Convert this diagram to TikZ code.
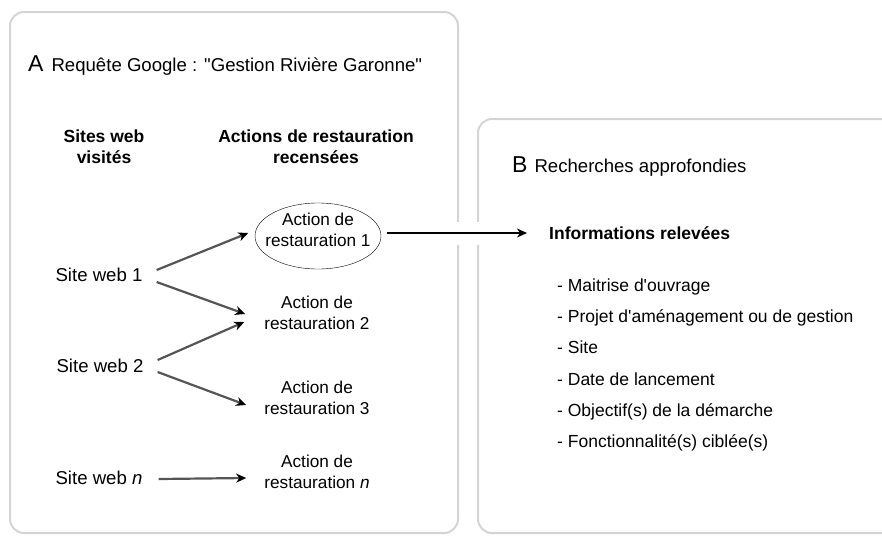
\documentclass[tikz,border=0pt]{standalone}
\usepackage{fontspec}
\setmainfont{Liberation Sans}
\usetikzlibrary{arrows.meta}
\definecolor{boxgray}{HTML}{D4D4D4}
\definecolor{arrgray}{HTML}{555555}
\tikzset{
  panel/.style={draw=boxgray, line width=2pt, rounded corners=14pt},
  txt/.style={inner sep=0pt, font=\fontsize{18.6}{22}\selectfont, align=center},
  act/.style={inner sep=0pt, font=\fontsize{17.2}{21.5}\selectfont, align=center},
  hdr/.style={inner sep=0pt, font=\bfseries\fontsize{17.5}{21}\selectfont, align=center},
  item/.style={inner sep=0pt, font=\fontsize{17.5}{21}\selectfont, anchor=base west},
  link/.style={draw=arrgray, line width=2.2pt, -{Stealth[length=10pt,width=9pt,inset=3pt,color=black]}},
  mainlink/.style={draw=black, line width=1.6pt, -{Stealth[length=10pt,width=9pt,inset=3pt]}}
}
\begin{document}
\begin{tikzpicture}[x=1pt,y=-1pt]
\useasboundingbox (0,0) rectangle (882,536);
% panels
\draw[panel] (10,12) rectangle (458,533);
\draw[panel] (478,119) rectangle (920,533);
\fill[white] (450,222) rectangle (486,245);
% headings
\node[inner sep=0pt, anchor=base west] (ttlA) at (28,71) {{\fontsize{23}{23}\selectfont A}\hspace{8pt}{\fontsize{18.6}{22}\selectfont Requête Google : \textquotedbl Gestion Rivière Garonne\textquotedbl}};
\node[inner sep=0pt, anchor=base west] (ttlB) at (512,172) {{\fontsize{23}{23}\selectfont B}\hspace{7pt}{\fontsize{18.6}{22}\selectfont Recherches approfondies}};
\node[hdr] (hsites) at (104,147) {Sites web\\visités};
\node[hdr] (hactions) at (316,147) {Actions de restauration\\recensées};
% sites
\node[txt] (s1) at (99,275) {Site web 1};
\node[txt] (s2) at (100,366) {Site web 2};
\node[txt] (sn) at (99,478) {Site web \textit{n}};
% actions
\node[act] (a1) at (318,230) {Action de\\restauration 1};
\draw[thin] ([yshift=-6pt]a1.center) ellipse [x radius=63pt, y radius=33pt];
\node[act] (a2) at (317,313) {Action de\\restauration 2};
\node[act] (a3) at (317,398) {Action de\\restauration 3};
\node[act] (an) at (317,472) {Action de\\restauration \textit{n}};
% info
\node[inner sep=0pt, anchor=base west, font=\bfseries\fontsize{17.5}{21}\selectfont] (info) at (549,239) {Informations relevées};
\node[item] (i1) at (557,291) {- Maitrise d\textquotesingle ouvrage};
\node[item] (i2) at (557,322) {- Projet d\textquotesingle aménagement ou de gestion};
\node[item] (i3) at (557,353) {- Site};
\node[item] (i4) at (557,385) {- Date de lancement};
\node[item] (i5) at (557,416) {- Objectif(s) de la démarche};
\node[item] (i6) at (557,447) {- Fonctionnalité(s) ciblée(s)};
% connectors
\draw[link] ([shift={(14,-5)}]s1.east) -- ([shift={(-17,3)}]a1.west);
\draw[link] ([shift={(14,7)}]s1.east) -- ([shift={(-19,1)}]a2.west);
\draw[link] ([shift={(14,-6)}]s2.east) -- ([shift={(-20,9)}]a2.west);
\draw[link] ([shift={(14,6)}]s2.east) -- ([shift={(-18,7)}]a3.west);
\draw[link] ([shift={(16,1)}]sn.east) -- ([shift={(-18,6)}]an.west);
\draw[mainlink] ([shift={(69,3)}]a1.center) -- ([xshift=-22pt]info.west |- 0,233);
\end{tikzpicture}
\end{document}
